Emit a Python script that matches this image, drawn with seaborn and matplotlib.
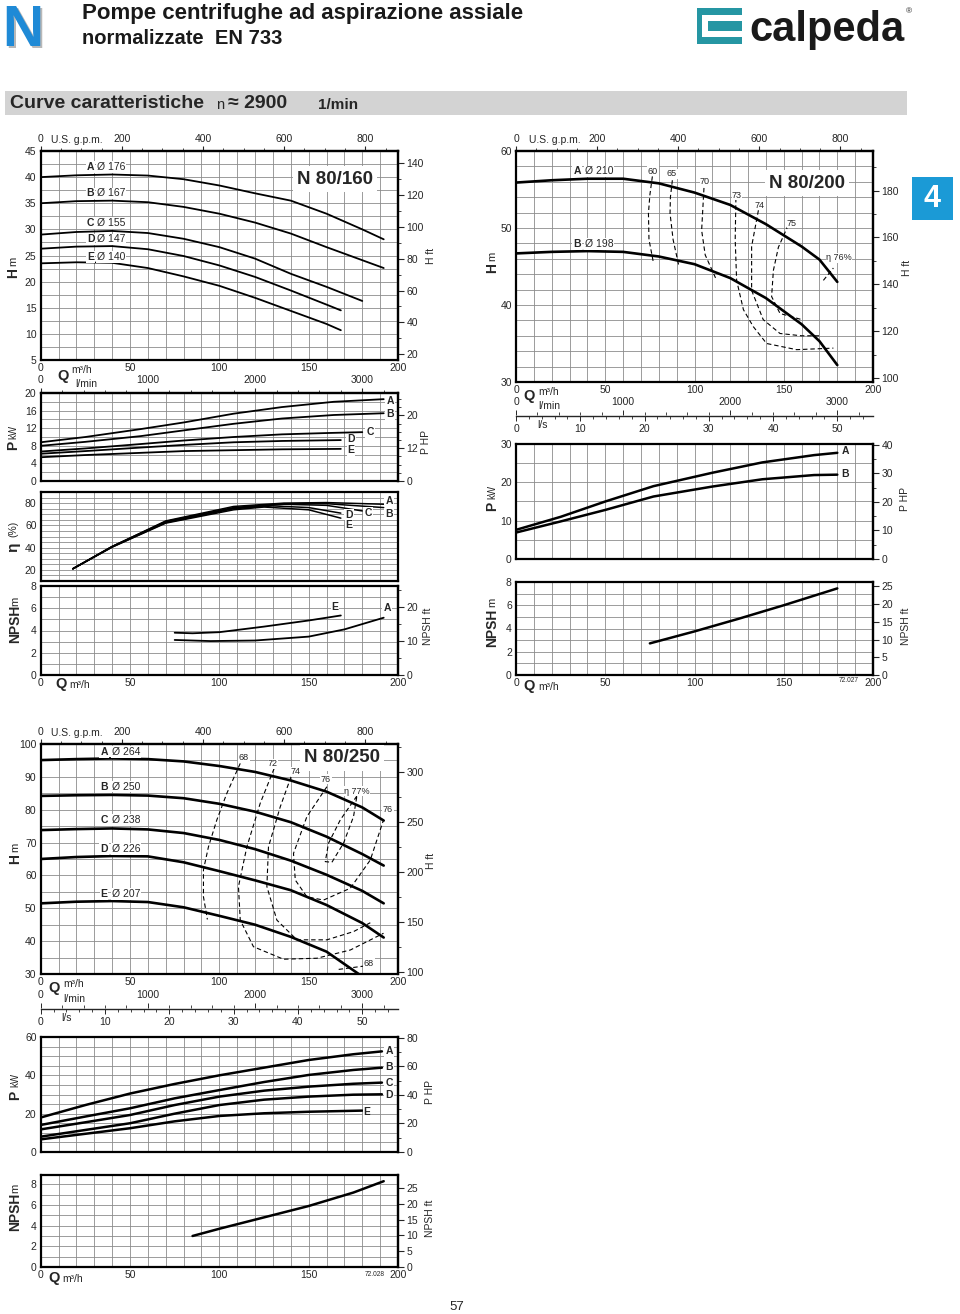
import numpy as np
import pandas as pd
import matplotlib
matplotlib.use("Agg")
import matplotlib.pyplot as plt
import seaborn as sns
from matplotlib.ticker import MultipleLocator, FixedLocator
from matplotlib.patches import Rectangle

# ------------------------------------------------------------------ data
Q_TICKS = [0, 50, 100, 150, 200]
GPM_TICKS = [0, 200, 400, 600, 800]
LMIN_TICKS = [0, 1000, 2000, 3000]
LS_TICKS = [0, 10, 20, 30, 40, 50]

# N 80/160 head (Q m3/h, H m)
n160_q_ab = [0, 20, 40, 60, 80, 100, 120, 140, 160, 180, 192]
n160_hA = [40.0, 40.35, 40.5, 40.3, 39.6, 38.4, 36.9, 35.5, 33.0, 30.0, 28.1]
n160_hB = [35.0, 35.4, 35.5, 35.2, 34.3, 33.0, 31.3, 29.2, 26.6, 24.1, 22.6]
n160_q_c = [0, 20, 40, 60, 80, 100, 120, 140, 160, 180]
n160_hC = [29.0, 29.5, 29.7, 29.3, 28.2, 26.6, 24.4, 21.5, 19.0, 16.3]
n160_q_de = [0, 20, 40, 60, 80, 100, 120, 140, 160, 168]
n160_hD = [26.3, 26.7, 26.8, 26.2, 24.9, 23.1, 20.9, 18.3, 15.6, 14.5]
n160_hE = [23.5, 23.7, 23.6, 22.6, 21.0, 19.2, 16.9, 14.4, 11.9, 10.7]
n160_diam = ["Ø 176", "Ø 167", "Ø 155", "Ø 147", "Ø 140"]
# N 80/160 power (kW)
n160_pq_ab = [0, 25, 56, 80, 108, 135, 164, 192]
n160_pA = [8.8, 10.0, 11.8, 13.3, 15.3, 16.8, 18.0, 18.6]
n160_pB = [8.0, 8.9, 10.2, 11.5, 13.0, 14.2, 15.0, 15.4]
n160_pq_c = [0, 25, 56, 80, 108, 135, 160, 180]
n160_pC = [6.7, 7.4, 8.4, 9.2, 10.0, 10.6, 10.9, 11.1]
n160_pq_de = [0, 25, 56, 80, 108, 135, 168]
n160_pD = [6.2, 6.8, 7.6, 8.2, 8.8, 9.1, 9.3]
n160_pE = [5.4, 5.9, 6.4, 6.8, 7.0, 7.2, 7.3]
# N 80/160 efficiency (%)
n160_eq_ab = [18, 40, 70, 108, 136, 160, 192]
n160_eA = [21, 41, 64, 77, 80, 80.5, 79]
n160_eB = [21, 41, 63.5, 76, 79.5, 79.5, 76]
n160_eq_c = [18, 40, 70, 108, 136, 160, 180]
n160_eC = [21, 41, 63, 75.5, 79, 78, 73]
n160_eq_d = [18, 40, 70, 108, 130, 150, 168]
n160_eD = [21, 40.5, 62.5, 75, 77.5, 76, 71]
n160_eq_e = [18, 40, 70, 108, 125, 150, 168]
n160_eE = [21, 40.5, 62, 74, 76.5, 74, 66.5]
# N 80/160 NPSH (m)
n160_nq_e = [75, 85, 100, 125, 150, 168]
n160_nE = [3.8, 3.75, 3.85, 4.35, 4.9, 5.35]
n160_nq_a = [75, 95, 120, 150, 170, 192]
n160_nA = [3.15, 3.05, 3.1, 3.45, 4.1, 5.15]

# N 80/200 head
n200_q = [0, 20, 40, 60, 80, 100, 120, 140, 160, 170, 180]
n200_hA = [55.9, 56.2, 56.4, 56.4, 55.8, 54.6, 53.0, 50.5, 47.6, 45.9, 43.0]
n200_hB = [46.7, 46.9, 47.0, 46.9, 46.3, 45.3, 43.5, 40.9, 37.5, 35.3, 32.2]
n200_diam = ["Ø 210", "Ø 198"]
# N 80/200 iso-efficiency lines
n200_e60_q = [76.4, 75.0, 74.2, 74.5, 76.9]
n200_e60_h = [56.7, 54.3, 51.9, 48.5, 45.6]
n200_e65_q = [87.6, 86.5, 86.3, 88.0, 91.3]
n200_e65_h = [56.2, 54.0, 51.9, 48.5, 45.0]
n200_e70_q = [105.3, 104.0, 106.0, 112.4]
n200_e70_h = [55.2, 49.7, 46.5, 43.2]
n200_e73_q = [123.2, 122.8, 123.6, 127.4, 132.9, 140.4, 157.2, 177.8]
n200_e73_h = [53.9, 48.5, 43.2, 39.4, 37.2, 35.0, 34.2, 34.4]
n200_e74_q = [135.8, 132.0, 132.0, 138.5, 147.9, 160.0, 171.2]
n200_e74_h = [52.3, 47.6, 41.9, 38.1, 36.3, 36.0, 36.0]
n200_e75_q = [152.6, 147.0, 144.2, 143.2, 147.9, 160.1]
n200_e75_h = [50.4, 47.5, 44.5, 41.1, 38.9, 38.1]
n200_e76_q = [172.2, 177.8]
n200_e76_h = [43.2, 44.8]
# N 80/200 power and NPSH
n200_pq = [0, 25, 50, 77, 110, 138, 167, 180]
n200_pA = [7.6, 11.0, 15.0, 19.0, 22.5, 25.2, 27.1, 27.7]
n200_pB = [6.9, 9.8, 12.8, 16.3, 18.9, 20.8, 21.9, 22.0]
n200_nq = [75, 100, 125, 150, 180]
n200_n = [2.72, 3.75, 4.85, 6.0, 7.45]

# N 80/250 head
n250_q = [0, 20, 40, 60, 80, 100, 120, 140, 160, 180, 192]
n250_hA = [95.1, 95.4, 95.6, 95.4, 94.7, 93.3, 91.5, 88.9, 85.5, 80.7, 76.7]
n250_hB = [84.2, 84.4, 84.5, 84.3, 83.5, 81.8, 79.4, 76.2, 71.8, 66.5, 63.0]
n250_hC = [73.8, 74.1, 74.3, 74.0, 72.9, 70.8, 68.0, 64.5, 60.2, 55.3, 51.5]
n250_hD = [65.0, 65.6, 65.9, 65.8, 64.0, 61.3, 58.5, 55.5, 51.0, 45.5, 41.1]
n250_q_e = [0, 20, 40, 60, 80, 100, 120, 140, 160, 178]
n250_hE = [51.5, 52.0, 52.2, 51.9, 50.3, 47.7, 45.0, 41.3, 36.8, 30.0]
n250_diam = ["Ø 264", "Ø 250", "Ø 238", "Ø 226", "Ø 207"]
# N 80/250 iso-efficiency lines
n250_e68a_q = [111.7, 104.2, 98.6, 93.9, 91.1, 91.1, 93.3]
n250_e68a_h = [94.1, 85.0, 76.9, 68.7, 61.7, 53.5, 46.6]
n250_e68b_q = [166.8, 180.8]
n250_e68b_h = [31.4, 32.4]
n250_e72_q = [132.2, 122.9, 115.4, 110.7, 111.7, 119.1, 135.9, 154.6, 173.3, 191.9]
n250_e72_h = [94.6, 82.0, 68.7, 56.6, 46.4, 38.3, 34.5, 34.8, 37.3, 42.4]
n250_e74_q = [141.5, 134.1, 127.5, 126.6, 132.2, 143.4, 160.2, 175.1, 184.5]
n250_e74_h = [92.1, 80.9, 68.7, 56.6, 46.4, 40.4, 40.4, 42.9, 45.6]
n250_e76_q = [160.2, 149.0, 141.5, 142.5, 149.0, 158.3, 173.3, 184.5, 191.9]
n250_e76_h = [87.0, 77.9, 66.7, 58.6, 53.5, 52.5, 56.1, 64.7, 76.9]
n250_e77_q = [177.0, 167.7, 161.1, 159.3, 163.0, 169.5, 175.1, 177.0]
n250_e77_h = [84.2, 76.9, 69.8, 64.2, 64.0, 69.8, 77.9, 84.2]
# N 80/250 power and NPSH
n250_pq = [0, 25, 50, 75, 100, 125, 150, 175, 191]
n250_pA = [18.0, 24.5, 30.5, 35.5, 40.0, 44.0, 48.0, 51.0, 52.5]
n250_pB = [14.1, 18.5, 22.8, 28.0, 32.3, 36.5, 40.2, 42.8, 44.0]
n250_pC = [11.8, 15.5, 19.3, 24.5, 28.9, 32.0, 34.1, 35.6, 36.2]
n250_pD = [8.0, 11.5, 15.0, 20.0, 24.5, 27.3, 28.9, 29.9, 30.1]
n250_pq_e = [0, 25, 50, 75, 100, 125, 150, 180]
n250_pE = [6.6, 9.5, 12.4, 16.0, 18.8, 20.2, 21.0, 21.6]
n250_nq = [85, 100, 125, 150, 175, 192]
n250_n = [3.0, 3.7, 4.8, 5.9, 7.2, 8.3]

# ------------------------------------------------------------------ style
sns.set_style("white")
plt.rcParams["font.family"] = ["Liberation Sans", "DejaVu Sans"]
NARROW = ["Liberation Sans Narrow", "Liberation Sans", "DejaVu Sans"]
TS = 7.5
GRID = "#8c8c8c"
M2FT = 3.28084
KW2HP = 1.34102

W, H = 960, 1314
fig = plt.figure(figsize=(9.6, 13.14), dpi=100)


def add_ax(l, t, r, b, **kw):
    return fig.add_axes([l / W, 1 - b / H, (r - l) / W, (b - t) / H], **kw)


def panel(l, t, r, b, ylim, yticks, ygrid, xlabels=False):
    ax = add_ax(l, t, r, b)
    ax.set_xlim(0, 200)
    ax.set_ylim(*ylim)
    ax.set_xticks(Q_TICKS)
    ax.xaxis.set_minor_locator(MultipleLocator(10))
    ax.set_yticks(yticks)
    ax.yaxis.set_minor_locator(MultipleLocator(ygrid))
    ax.grid(which="both", color=GRID, lw=0.6)
    ax.set_axisbelow(True)
    for s in ax.spines.values():
        s.set_linewidth(1.6)
        s.set_color("black")
    ax.tick_params(axis="both", which="both", length=0, labelsize=TS, pad=3)
    ax.tick_params(axis="x", pad=2)
    if not xlabels:
        ax.tick_params(axis="x", labelbottom=False)
    return ax


def finish(ax):
    ax.set_xlabel("")
    ax.set_ylabel("")


def right_axis(ax, factor, ticks, minor=None, labels=None):
    sec = ax.secondary_yaxis("right", functions=(lambda v: v * factor, lambda v: v / factor))
    sec.set_yticks(ticks)
    if labels is not None:
        sec.set_yticklabels(labels)
    if minor:
        sec.yaxis.set_minor_locator(MultipleLocator(minor))
    sec.tick_params(which="major", length=4, width=0.8, direction="out", labelsize=TS, pad=2)
    sec.tick_params(which="minor", length=2.5, width=0.6, direction="out")
    sec.spines["right"].set_linewidth(1.6)
    return sec


def top_axis(ax, factor, ticks, minor, pad=1.5):
    sec = ax.secondary_xaxis("top", functions=(lambda v: v * factor, lambda v: v / factor))
    sec.set_xticks(ticks)
    sec.xaxis.set_minor_locator(MultipleLocator(minor))
    sec.tick_params(which="major", length=3.5, width=0.8, direction="out", labelsize=TS, pad=pad)
    sec.tick_params(which="minor", length=2.2, width=0.6, direction="out")
    sec.spines["top"].set_linewidth(1.6)
    return sec


def scale_line(l, r, y):
    ax = add_ax(l, y - 1, r, y)
    ax.set_xlim(0, 200)
    ax.set_ylim(0, 1)
    for s in ["left", "right", "top"]:
        ax.spines[s].set_visible(False)
    ax.spines["bottom"].set_linewidth(1.0)
    ax.set_xticks([])
    ax.set_yticks([])
    ax.patch.set_alpha(0)
    t = ax.secondary_xaxis("top", functions=(lambda v: v * 1000 / 60, lambda v: v * 60 / 1000))
    t.set_xticks(LMIN_TICKS)
    t.xaxis.set_minor_locator(MultipleLocator(200))
    t.tick_params(which="major", length=3.5, width=0.7, labelsize=TS, pad=2)
    t.tick_params(which="minor", length=2.2, width=0.6)
    t.spines["top"].set_visible(False)
    b = ax.secondary_xaxis("bottom", functions=(lambda v: v / 3.6, lambda v: v * 3.6))
    b.set_xticks(LS_TICKS)
    b.xaxis.set_minor_locator(MultipleLocator(2))
    b.tick_params(which="major", length=3.5, width=0.7, labelsize=TS, pad=2)
    b.tick_params(which="minor", length=2.2, width=0.6)
    b.spines["bottom"].set_visible(False)
    return ax


def curve(ax, q, v, lw=1.4, dashed=False):
    kw = dict(color="black", lw=lw, sort=False, estimator=None, legend=False, ax=ax)
    if dashed:
        kw["linestyle"] = (0, (4, 2.6))
    sns.lineplot(x=q, y=v, **kw)


# ------------------------------------------------------------------ N 80/160
L1, R1 = 40.7, 398
a = panel(L1, 151, R1, 360, (5, 45), list(range(5, 46, 5)), 2.5, xlabels=True)
for q, h in [(n160_q_ab, n160_hA), (n160_q_ab, n160_hB), (n160_q_c, n160_hC),
             (n160_q_de, n160_hD), (n160_q_de, n160_hE)]:
    curve(a, q, h, lw=1.3)
finish(a)
right_axis(a, M2FT, [20, 40, 60, 80, 100, 120, 140], minor=10)
top_axis(a, 4.4029, GPM_TICKS, 50)

a = panel(L1, 393, R1, 481, (0, 20), [0, 4, 8, 12, 16, 20], 2)
for q, p in [(n160_pq_ab, n160_pA), (n160_pq_ab, n160_pB), (n160_pq_c, n160_pC),
             (n160_pq_de, n160_pD), (n160_pq_de, n160_pE)]:
    curve(a, q, p, lw=1.3)
finish(a)
right_axis(a, KW2HP, [0, 10, 20], minor=2.5, labels=["0", "12", "20"])
top_axis(a, 1000 / 60, LMIN_TICKS, 200, pad=2)

a = panel(L1, 492, R1, 581, (10, 90), [20, 40, 60, 80], 5)
for q, e in [(n160_eq_ab, n160_eA), (n160_eq_ab, n160_eB), (n160_eq_c, n160_eC),
             (n160_eq_d, n160_eD), (n160_eq_e, n160_eE)]:
    curve(a, q, e, lw=1.1)
finish(a)

a = panel(L1, 586, R1, 675, (0, 8), [0, 2, 4, 6, 8], 1, xlabels=True)
curve(a, n160_nq_e, n160_nE, lw=1.3)
curve(a, n160_nq_a, n160_nA, lw=1.3)
finish(a)
right_axis(a, M2FT, [0, 10, 20], minor=5)

# ------------------------------------------------------------------ N 80/200
L2, R2 = 516, 873
a = panel(L2, 151, R2, 382, (30, 60), [30, 40, 50, 60], 2, xlabels=True)
curve(a, n200_q, n200_hA, lw=1.9)
curve(a, n200_q, n200_hB, lw=1.9)
for q, h in [(n200_e60_q, n200_e60_h), (n200_e65_q, n200_e65_h), (n200_e70_q, n200_e70_h),
             (n200_e73_q, n200_e73_h), (n200_e74_q, n200_e74_h), (n200_e75_q, n200_e75_h),
             (n200_e76_q, n200_e76_h)]:
    curve(a, q, h, lw=0.8, dashed=True)
finish(a)
right_axis(a, M2FT, [100, 120, 140, 160, 180], minor=10)
top_axis(a, 4.4029, GPM_TICKS, 50)

scale_line(L2, R2, 416)

a = panel(L2, 444, R2, 559, (0, 30), [0, 10, 20, 30], 5)
curve(a, n200_pq, n200_pA, lw=1.8)
curve(a, n200_pq, n200_pB, lw=1.8)
finish(a)
right_axis(a, KW2HP, [0, 10, 20, 30, 40], minor=5)

a = panel(L2, 582, R2, 675, (0, 8), [0, 2, 4, 6, 8], 1, xlabels=True)
curve(a, n200_nq, n200_n, lw=1.8)
finish(a)
right_axis(a, M2FT, [0, 5, 10, 15, 20, 25])

# ------------------------------------------------------------------ N 80/250
a = panel(L1, 744, R1, 974, (30, 100), list(range(30, 101, 10)), 5, xlabels=True)
for h in [n250_hA, n250_hB, n250_hC, n250_hD]:
    curve(a, n250_q, h, lw=1.9)
curve(a, n250_q_e, n250_hE, lw=1.9)
for q, h in [(n250_e68a_q, n250_e68a_h), (n250_e68b_q, n250_e68b_h), (n250_e72_q, n250_e72_h),
             (n250_e74_q, n250_e74_h), (n250_e76_q, n250_e76_h), (n250_e77_q, n250_e77_h)]:
    curve(a, q, h, lw=0.8, dashed=True)
finish(a)
right_axis(a, M2FT, [100, 150, 200, 250, 300], minor=25)
top_axis(a, 4.4029, GPM_TICKS, 50)

scale_line(L1, R1, 1009)

a = panel(L1, 1037, R1, 1152, (0, 60), [0, 20, 40, 60], 5)
for p in [n250_pA, n250_pB, n250_pC, n250_pD]:
    curve(a, n250_pq, p, lw=1.8)
curve(a, n250_pq_e, n250_pE, lw=1.8)
finish(a)
right_axis(a, KW2HP, [0, 20, 40, 60, 80], minor=10)

a = panel(L1, 1175, R1, 1267, (0, 8.9), [0, 2, 4, 6, 8], 1, xlabels=True)
curve(a, n250_nq, n250_n, lw=1.8)
finish(a)
right_axis(a, M2FT, [0, 5, 10, 15, 20, 25])

# ------------------------------------------------------------------ overlay (text, header)
ov = fig.add_axes([0, 0, 1, 1], zorder=10)
ov.set_xlim(0, W)
ov.set_ylim(H, 0)
ov.axis("off")
WB = dict(fc="white", ec="none", pad=0.6)


def T(x, y, s, size=TS, ha="center", va="center", **kw):
    ov.text(x, y, s, fontsize=size, ha=ha, va=va, **kw)


def vlab(x, y, s, size=TS, bold=False):
    T(x, y, s, size=size, rotation=90, fontweight="bold" if bold else "normal")


# header
T(25, 48, "N", size=41, va="baseline", color="#b8b8b8", family=NARROW, fontweight="bold")
T(23, 46, "N", size=41, va="baseline", color="#1f8ad6", family=NARROW, fontweight="bold")
T(82, 13, "Pompe centrifughe ad aspirazione assiale", size=16, ha="left", fontweight="bold",
  color="#1a1a1a")
T(82, 39, "normalizzate  EN 733", size=14.5, ha="left", fontweight="bold", color="#1a1a1a")
ov.add_patch(Rectangle((697, 8), 45, 36, fc="#2596a3", ec="none"))
ov.add_patch(Rectangle((702, 15), 40, 22, fc="white", ec="none"))
ov.add_patch(Rectangle((708, 21), 34, 10, fc="#2596a3", ec="none"))
T(749, 30, "calpeda", size=30, ha="left", fontweight="bold", color="#1a1a1a")
T(909, 12, "®", size=6)
ov.add_patch(Rectangle((5, 91), 902, 24, fc="#d3d3d3", ec="none"))
T(10, 104, "Curve caratteristiche", size=14, ha="left", fontweight="bold")
T(220, 105, "n", size=10.5, ha="center")
T(228, 104, "≈ 2900", size=14, ha="left", fontweight="bold")
T(318, 105, "1/min", size=11, ha="left", fontweight="bold")
ov.add_patch(Rectangle((912, 177), 41, 43, fc="#1b9ad6", ec="none"))
T(932.5, 199, "4", size=22, color="white", fontweight="bold")
T(457, 1307, "57", size=9.5)

# ---- N 80/160 texts
T(335, 179, "N 80/160", size=13.5, fontweight="bold", bbox=dict(fc="white", ec="none", pad=3))
for y, letter, d in zip([167, 193.5, 223, 239.5, 257], "ABCDE", n160_diam):
    T(90.5, y, letter, fontweight="bold", bbox=WB)
    T(97, y, d, ha="left", bbox=WB)
T(77, 140, "U.S. g.p.m.", size=TS)
T(63, 376, "Q", size=10.5, fontweight="bold")
T(82, 370, "m³/h", size=TS)
T(86, 384, "l/min", size=TS)
for x, y, s in [(390, 401, "A"), (390, 414, "B"), (370, 432, "C"), (351, 439.5, "D"), (351, 450, "E"),
                (389, 500.5, "A"), (389, 514, "B"), (368, 513, "C"), (349, 514.5, "D"), (349, 525, "E"),
                (335, 607, "E"), (387, 608, "A")]:
    T(x, y, s, fontweight="bold", bbox=WB)
T(61, 684, "Q", size=10.5, fontweight="bold")
T(80, 685, "m³/h", size=TS)
vlab(13, 273, "H", size=10, bold=True)
vlab(13, 261, "m", size=8)
vlab(431, 256, "H ft")
vlab(13, 445, "P", size=10, bold=True)
vlab(13, 432, "kW", size=7)
vlab(426, 442, "P HP")
vlab(13, 547, "η", size=11, bold=True)
vlab(13, 529, "(%)", size=7.5)
vlab(15, 624, "NPSH", size=10, bold=True)
vlab(15, 601, "m", size=8)
vlab(428, 626, "NPSH ft")

# ---- N 80/200 texts
T(807, 183, "N 80/200", size=13.5, fontweight="bold", bbox=dict(fc="white", ec="none", pad=3))
for y, letter, d in zip([171.5, 244], "AB", n200_diam):
    T(577, y, letter, fontweight="bold", bbox=WB)
    T(585, y, d, ha="left", bbox=WB)
for x, y, s in [(653, 171, "60"), (672, 174, "65"), (705, 182, "70"), (737, 195, "73"),
                (760, 205, "74"), (792, 223, "75"), (839, 258, "η 76%")]:
    T(x, y, s, size=6.5, bbox=dict(fc="white", ec="none", pad=0.3))
T(555, 140, "U.S. g.p.m.", size=TS)
T(529, 396, "Q", size=10.5, fontweight="bold")
T(549, 392, "m³/h", size=TS)
T(549, 406, "l/min", size=TS)
T(542, 425, "l/s", size=TS)
T(845, 451.5, "A", fontweight="bold", bbox=WB)
T(845, 474, "B", fontweight="bold", bbox=WB)
T(529, 686, "Q", size=10.5, fontweight="bold")
T(549, 687, "m³/h", size=TS)
T(849, 680, "72.027", size=4.8)
vlab(492, 268, "H", size=10, bold=True)
vlab(492, 256, "m", size=8)
vlab(907, 268, "H ft")
vlab(492, 506, "P", size=10, bold=True)
vlab(492, 492, "kW", size=7)
vlab(905, 499, "P HP")
vlab(492, 628, "NPSH", size=10, bold=True)
vlab(492, 602, "m", size=8)
vlab(906, 626, "NPSH ft")

# ---- N 80/250 texts
T(342, 758, "N 80/250", size=13.5, fontweight="bold", bbox=dict(fc="white", ec="none", pad=3))
for y, letter, d in zip([752, 786.5, 820, 849, 894], "ABCDE", n250_diam):
    T(104, y, letter, fontweight="bold", bbox=WB)
    T(112, y, d, ha="left", bbox=WB)
for x, y, s in [(244, 758, "68"), (273, 764, "72"), (296, 772, "74"), (326, 779, "76"),
                (357, 791, "η 77%"), (388, 810, "76"), (369, 963, "68")]:
    T(x, y, s, size=6.5, bbox=dict(fc="white", ec="none", pad=0.3))
T(77, 733, "U.S. g.p.m.", size=TS)
T(54, 988, "Q", size=10.5, fontweight="bold")
T(74, 984, "m³/h", size=TS)
T(74, 999, "l/min", size=TS)
T(67, 1018, "l/s", size=TS)
for x, y, s in [(389, 1051.5, "A"), (389, 1067.5, "B"), (389, 1082.5, "C"), (389, 1095, "D"),
                (367, 1112, "E")]:
    T(x, y, s, fontweight="bold", bbox=WB)
T(54, 1278, "Q", size=10.5, fontweight="bold")
T(73, 1279, "m³/h", size=TS)
T(375, 1274, "72.028", size=4.8)
vlab(15, 859, "H", size=10, bold=True)
vlab(15, 847, "m", size=8)
vlab(431, 861, "H ft")
vlab(15, 1095, "P", size=10, bold=True)
vlab(15, 1080, "kW", size=7)
vlab(430, 1092, "P HP")
vlab(15, 1212, "NPSH", size=10, bold=True)
vlab(15, 1188, "m", size=8)
vlab(430, 1218, "NPSH ft")

fig.savefig("out.png", dpi=100)
